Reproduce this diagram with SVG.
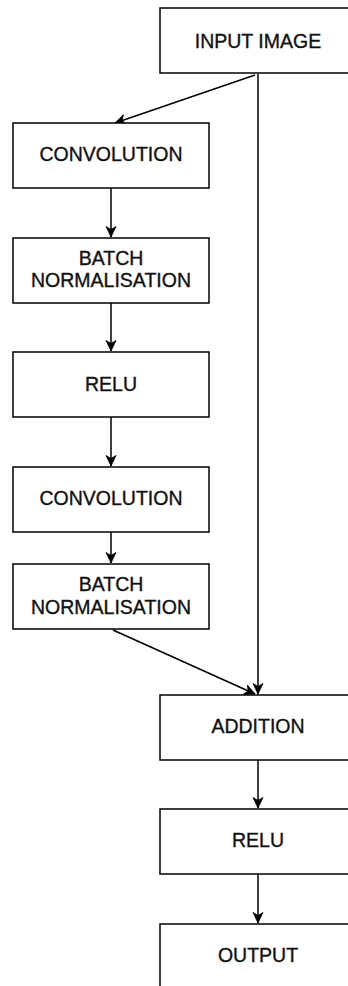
<svg xmlns="http://www.w3.org/2000/svg" width="348" height="986" viewBox="0 0 348 986">
  <style>
    .box { fill: #ffffff; stroke: #000000; stroke-width: 1.5; }
    .lbl { font-family: "Liberation Sans", Arial, Helvetica, sans-serif; font-size: 19.5px; fill: #111111; stroke: #111111; stroke-width: 0.35; text-anchor: middle; }
    .edge { fill: none; stroke: #000000; stroke-width: 1.5; marker-end: url(#arrow); }
  </style>
  <defs>
    <marker id="arrow" markerUnits="userSpaceOnUse" markerWidth="13" markerHeight="13" refX="11" refY="6" orient="auto" viewBox="0 0 13 12">
      <path d="M0.5,1 L11,6 L0.5,11 L3.5,6 Z" fill="#000000" stroke="#000000" stroke-width="0.8" stroke-linejoin="miter"/>
    </marker>
  </defs>
  <rect width="348" height="986" fill="#ffffff"/>

  <g id="connectors">
    <path class="edge" d="M255,75 L115,123"/>
    <path class="edge" d="M258,74 L258,694"/>
    <path class="edge" d="M111,188 L111,237"/>
    <path class="edge" d="M111,303 L111,351"/>
    <path class="edge" d="M111,417 L111,466"/>
    <path class="edge" d="M111,532 L111,563"/>
    <path class="edge" d="M113,630 L255,694"/>
    <path class="edge" d="M258,760 L258,808"/>
    <path class="edge" d="M258,874 L258,923"/>
  </g>

  <g id="input-image">
    <rect class="box" x="160" y="8" width="196" height="65"/>
    <text class="lbl" x="258" y="47.5">INPUT IMAGE</text>
  </g>
  <g id="convolution-1">
    <rect class="box" x="13" y="123" width="196" height="65"/>
    <text class="lbl" x="111" y="161">CONVOLUTION</text>
  </g>
  <g id="batch-norm-1">
    <rect class="box" x="13" y="238" width="196" height="65"/>
    <text class="lbl" x="111" y="264.5">BATCH</text>
    <text class="lbl" x="111" y="287">NORMALISATION</text>
  </g>
  <g id="relu-1">
    <rect class="box" x="13" y="352" width="196" height="65"/>
    <text class="lbl" x="111" y="390.5">RELU</text>
  </g>
  <g id="convolution-2">
    <rect class="box" x="13" y="467" width="196" height="65"/>
    <text class="lbl" x="111" y="505">CONVOLUTION</text>
  </g>
  <g id="batch-norm-2">
    <rect class="box" x="13" y="564" width="196" height="65"/>
    <text class="lbl" x="111" y="591">BATCH</text>
    <text class="lbl" x="111" y="613.5">NORMALISATION</text>
  </g>
  <g id="addition">
    <rect class="box" x="160" y="695" width="196" height="65"/>
    <text class="lbl" x="258" y="733">ADDITION</text>
  </g>
  <g id="relu-2">
    <rect class="box" x="160" y="809" width="196" height="65"/>
    <text class="lbl" x="258" y="847">RELU</text>
  </g>
  <g id="output">
    <rect class="box" x="160" y="924" width="196" height="70"/>
    <text class="lbl" x="258" y="962">OUTPUT</text>
  </g>
</svg>
